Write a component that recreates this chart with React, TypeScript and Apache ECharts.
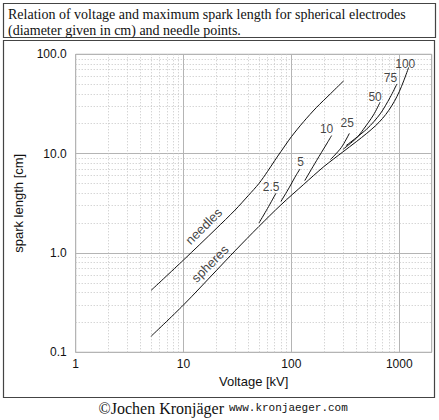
import React, { useEffect, useRef } from 'react';
import * as echarts from 'echarts';

// Needle points: voltage [kV] vs spark length [cm]
const needlesV = [5, 10, 20, 30, 40, 50, 60, 70, 80, 100, 130, 170, 230, 305];
const needlesD = [0.42, 0.85, 1.75, 2.7, 3.8, 5.0, 6.6, 8.5, 10.5, 14.8, 21, 29, 40, 54];

// Spheres envelope (continues into the 100 cm curve)
const spheresV = [5, 10, 20, 30, 50, 80, 130, 200, 300, 400, 500, 600, 700, 800, 900, 1000, 1100, 1224];
const spheresD = [0.145, 0.3, 0.66, 1.05, 1.85, 3.05, 4.9, 7.4, 10.4, 13.2, 16.0, 19.0, 22.6, 27.3, 33.5, 42, 54, 74];

// Branches for individual sphere diameters
const d2_5V = [50, 60, 72];
const d2_5D = [2.0, 2.8, 4.0];
const d5V = [80, 96, 108, 120];
const d5D = [3.3, 4.6, 5.8, 7.0];
const d10V = [133, 171, 212, 236];
const d10D = [5.35, 8.5, 12.5, 15.2];
const d25V = [230, 290, 345];
const d25D = [8.7, 11.5, 16];
const d50V = [300, 400, 466, 577, 665];
const d50D = [11.0, 14.3, 17.6, 24.5, 33];
const d75V = [320, 500, 665, 824, 952];
const d75D = [12, 17.7, 25.1, 36.9, 50.3];

// Diameter labels
const diamNames = ['2.5', '5', '10', '25', '50', '75', '100'];
const diamLabelV = [64.9, 122, 212, 329, 597, 828, 1138];
const diamLabelD = [4.65, 8.2, 17.5, 20.3, 37.5, 57.6, 79.7];

// Curve name labels
const curveNames = ['needles', 'spheres'];
const curveLabelV = [15.4, 17.6];
const curveLabelD = [1.86, 0.78];

// Minor grid values
const minorX = [2, 3, 4, 5, 6, 7, 8, 9, 20, 30, 40, 50, 60, 70, 80, 90, 200, 300, 400, 500, 600, 700, 800, 900];
const minorY = [0.2, 0.3, 0.4, 0.5, 0.6, 0.7, 0.8, 0.9, 2, 3, 4, 5, 6, 7, 8, 9, 20, 30, 40, 50, 60, 70, 80, 90];

const titleLines = [
  'Relation of voltage and maximum spark length for spherical electrodes',
  '(diameter given in cm) and needle points.',
];

const SANS = '"Liberation Sans", Arial, Helvetica, sans-serif';
const SERIF = '"Liberation Serif", "Times New Roman", serif';
const MONO = '"Liberation Mono", "DejaVu Sans Mono", monospace';

export default function App() {
  const ref = useRef<HTMLDivElement>(null);

  useEffect(() => {
    const chart = echarts.init(ref.current as HTMLDivElement, null, { renderer: 'svg' });
    const pairs = (xs: number[], ys: number[]) => xs.map((x, i) => [x, ys[i]]);
    const curve = (name: string, xs: number[], ys: number[]) => ({
      type: 'line',
      name,
      data: pairs(xs, ys),
      showSymbol: false,
      symbol: 'none',
      smooth: 0.3,
      lineStyle: { color: '#111', width: 1 },
      silent: true,
      z: 5,
    });
    const isPow10 = (v: number) => Math.abs(Math.log10(v) - Math.round(Math.log10(v))) < 1e-6;
    const minorLine = { color: '#c4c4c4', width: 1, type: [1, 2] as any };

    chart.setOption({
      animation: false,
      grid: {
        left: 75.7,
        top: 54.3,
        width: 356,
        height: 298,
        show: true,
        borderColor: '#9a9a9a',
        borderWidth: 1,
      },
      xAxis: {
        type: 'log',
        logBase: 10,
        min: 1,
        max: 2000,
        name: 'Voltage [kV]',
        nameLocation: 'middle',
        nameGap: 21,
        nameTextStyle: { fontFamily: SANS, fontSize: 13, color: '#111' },
        axisLine: { show: false },
        axisTick: { show: false },
        axisLabel: {
          formatter: (v: number) => (isPow10(v) ? String(Math.round(v)) : ''),
          margin: 6,
          fontFamily: SANS,
          fontSize: 12,
          color: '#111',
        },
        splitLine: { show: true, lineStyle: { color: '#b4b4b4', width: 1 } },
      },
      yAxis: {
        type: 'log',
        logBase: 10,
        min: 0.1,
        max: 100,
        name: 'spark length [cm]',
        nameLocation: 'middle',
        nameGap: 51,
        nameTextStyle: { fontFamily: SANS, fontSize: 13, color: '#111' },
        axisLine: { show: false },
        axisTick: { show: false },
        axisLabel: {
          formatter: (v: number) => (v >= 1 ? Math.round(v).toFixed(1) : String(+v.toFixed(1))),
          margin: 9,
          fontFamily: SANS,
          fontSize: 12,
          color: '#111',
        },
        splitLine: { show: true, lineStyle: { color: '#b4b4b4', width: 1 } },
      },
      series: [
        {
          type: 'line',
          name: 'minor grid',
          data: [],
          silent: true,
          z: 1,
          markLine: {
            silent: true,
            symbol: ['none', 'none'],
            label: { show: false },
            lineStyle: minorLine,
            emphasis: { disabled: true },
            data: [
              ...minorX.map((v) => ({ xAxis: v })),
              ...minorY.map((v) => ({ yAxis: v })),
            ],
          },
        },
        curve('needles', needlesV, needlesD),
        curve('spheres', spheresV, spheresD),
        curve('2.5', d2_5V, d2_5D),
        curve('5', d5V, d5D),
        curve('10', d10V, d10D),
        curve('25', d25V, d25D),
        curve('50', d50V, d50D),
        curve('75', d75V, d75D),
        {
          type: 'scatter',
          name: 'diameter labels',
          symbolSize: 0,
          silent: true,
          z: 6,
          data: diamNames.map((n, i) => ({ name: n, value: [diamLabelV[i], diamLabelD[i]] })),
          label: {
            show: true,
            position: 'inside',
            formatter: (p: any) => p.name,
            fontFamily: SANS,
            fontSize: 12,
            color: '#111',
          },
        },
        {
          type: 'scatter',
          name: 'curve labels',
          symbolSize: 0,
          silent: true,
          z: 6,
          data: curveNames.map((n, i) => ({ name: n, value: [curveLabelV[i], curveLabelD[i]] })),
          label: {
            show: true,
            position: 'inside',
            rotate: 45,
            formatter: (p: any) => p.name,
            fontFamily: SANS,
            fontSize: 13,
            color: '#111',
          },
        },
      ],
      graphic: [
        {
          type: 'rect',
          shape: { x: 3.5, y: 3.5, width: 432, height: 34 },
          style: { fill: 'none', stroke: '#444', lineWidth: 1.2 },
          silent: true,
        },
        {
          type: 'rect',
          shape: { x: 3.5, y: 40.5, width: 431, height: 357 },
          style: { fill: 'none', stroke: '#444', lineWidth: 1.2 },
          silent: true,
        },
        {
          type: 'text',
          x: 8,
          y: 14,
          style: {
            text: titleLines[0],
            font: `14px ${SERIF}`,
            fill: '#111',
            textAlign: 'left',
            textVerticalAlign: 'middle',
          },
          silent: true,
        },
        {
          type: 'text',
          x: 8,
          y: 30.5,
          style: {
            text: titleLines[1],
            font: `14px ${SERIF}`,
            fill: '#111',
            textAlign: 'left',
            textVerticalAlign: 'middle',
          },
          silent: true,
        },
        {
          type: 'text',
          x: 228,
          y: 408,
          style: {
            text: '©Jochen Kronjäger ',
            font: `16px ${SERIF}`,
            fill: '#111',
            textAlign: 'right',
            textVerticalAlign: 'middle',
          },
          silent: true,
        },
        {
          type: 'text',
          x: 229,
          y: 408,
          style: {
            text: 'www.kronjaeger.com',
            font: `11px ${MONO}`,
            fill: '#111',
            textAlign: 'left',
            textVerticalAlign: 'middle',
          },
          silent: true,
        },
      ],
    });

    return () => {
      chart.dispose();
    };
  }, []);

  return (
    <div
      ref={ref}
      style={{ position: 'absolute', left: 0, top: 0, width: 439, height: 420, background: '#fff' }}
    />
  );
}
